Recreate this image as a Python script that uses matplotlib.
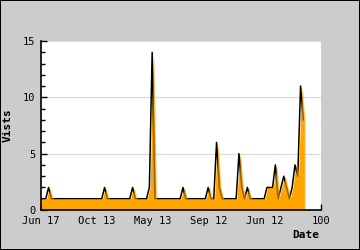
import numpy as np
import matplotlib
matplotlib.use('Agg')
import matplotlib.pyplot as plt

# visits per step (index 0..94), mostly 1 with spikes
visits = [1] * 95
spikes = {3: 2, 23: 2, 33: 2, 39: 2, 40: 14, 51: 2, 60: 2, 63: 6, 64: 2,
          71: 5, 72: 2, 74: 2, 81: 2, 82: 2, 83: 2, 84: 4, 85: 1, 86: 2,
          87: 3, 88: 2, 89: 1, 90: 2, 91: 4, 92: 3, 93: 11, 94: 8}
for k, v in spikes.items():
    visits[k] = v
days = np.arange(len(visits))

xtick_pos = [0, 20, 40, 60, 80, 100]
xtick_labels = ['Jun 17', 'Oct 13', 'May 13', 'Sep 12', 'Jun 12', '100']
ytick_pos = [0, 5, 10, 15]

plt.rcParams['font.family'] = 'DejaVu Sans Mono'

fig = plt.figure(figsize=(3.6, 2.5), dpi=100)
fig.patch.set_facecolor('#cccccc')
fig.patch.set_edgecolor('black')
fig.patch.set_linewidth(1.2)

ax = fig.add_axes([41 / 360, 40 / 250, 280 / 360, 169 / 250])
ax.set_facecolor('white')
ax.fill_between(days, 0, visits, color='#ffa500', linewidth=0, zorder=2)
ax.plot(days - 0.3, visits, color='black', lw=1.1, zorder=3)
ax.fill_between(days + 0.3, 0, visits, color='#ffa500', linewidth=0, zorder=4, alpha=0.6)

ax.set_xlim(0, 100)
ax.set_ylim(0, 15)
ax.set_xticks(xtick_pos)
ax.set_xticklabels(xtick_labels, fontsize=7.5)
ax.set_yticks(ytick_pos)
ax.set_yticks(range(16), minor=True)
ax.tick_params(axis='y', labelsize=7.5, pad=4)
ax.tick_params(direction='in', length=4, width=1, color='black')
ax.tick_params(axis='y', which='minor', direction='in', length=3, width=1)
ax.tick_params(axis='x', pad=4)
ax.grid(axis='y', color='#d8d8d8', lw=0.8, zorder=1)
ax.set_axisbelow(True)

for side in ['top', 'right']:
    ax.spines[side].set_visible(False)
for side in ['left', 'bottom']:
    ax.spines[side].set_linewidth(1.2)
    ax.spines[side].set_zorder(5)

fig.text(8 / 360, 1 - 125 / 250, 'Vists', rotation=90, ha='center', va='center',
         fontsize=8, fontweight='bold')
fig.text(319 / 360, 1 - 235 / 250, 'Date', ha='right', va='center',
         fontsize=8, fontweight='bold')

fig.savefig('out.png', dpi=100, facecolor=fig.get_facecolor(), edgecolor='black')
